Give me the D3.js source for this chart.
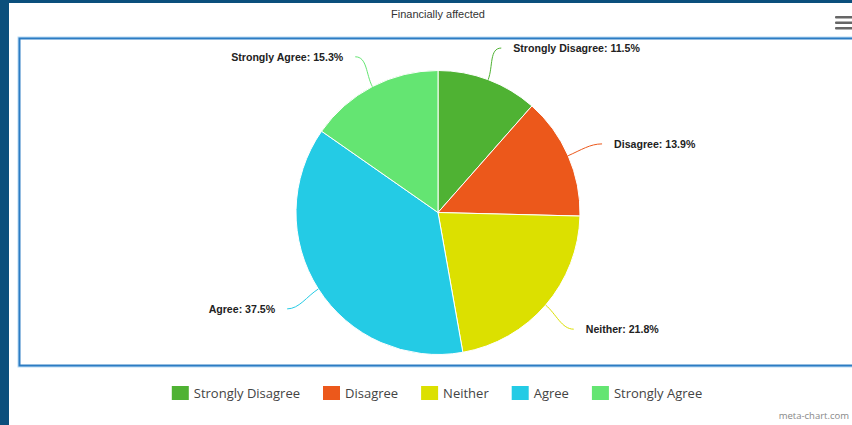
<!DOCTYPE html>
<html>
<head>
<meta charset="utf-8">
<script src="https://cdn.jsdelivr.net/npm/d3@7/dist/d3.min.js"></script>
<style>
  html, body { margin: 0; padding: 0; background: #ffffff; }
  svg { display: block; }
</style>
</head>
<body>
<svg id="chart" width="852" height="425"></svg>
<script>
// Survey responses: "Financially affected"
const categories = ["Strongly Disagree", "Disagree", "Neither", "Agree", "Strongly Agree"];
const percentages = [11.5, 13.9, 21.8, 37.5, 15.3];
const sliceColors = ["#4fb233", "#ec581b", "#dce000", "#24cbe5", "#64e572"];
const chartTitle = "Financially affected";
const creditText = "meta-chart.com";

const W = 852, H = 425;
const svg = d3.select("#chart");

// page background and dark frame edges
svg.append("rect").attr("width", W).attr("height", H).attr("fill", "#ffffff");
svg.append("rect").attr("x", 0).attr("y", 0).attr("width", 9).attr("height", H).attr("fill", "#0b4f7c");
svg.append("rect").attr("x", 0).attr("y", 0).attr("width", W).attr("height", 3).attr("fill", "#0b4f7c");

// title
svg.append("text")
  .attr("x", 438).attr("y", 18)
  .attr("text-anchor", "middle")
  .attr("font-family", "'Liberation Sans', Arial, sans-serif")
  .attr("font-size", 11)
  .attr("fill", "#333")
  .text(chartTitle);

// menu icon
const menu = svg.append("g").attr("fill", "#666");
[16, 21.5, 27].forEach(y => {
  menu.append("rect").attr("x", 835).attr("y", y).attr("width", 20).attr("height", 2.6).attr("rx", 1);
});

// plot frame (blue border with a soft glow)
svg.append("rect")
  .attr("x", 19.5).attr("y", 38.5).attr("width", 900).attr("height", 327)
  .attr("fill", "none").attr("stroke", "#b9dbf5").attr("stroke-width", 4);
svg.append("rect")
  .attr("x", 19.5).attr("y", 38.5).attr("width", 900).attr("height", 327)
  .attr("fill", "#ffffff").attr("stroke", "#2c7cc3").attr("stroke-width", 2);

// pie
const cx = 438, cy = 212.5, R = 142;
const data = categories.map((c, i) => ({ name: c, value: percentages[i], color: sliceColors[i] }));
const pie = d3.pie().sort(null).value(d => d.value);
const arcs = pie(data);
const arc = d3.arc().innerRadius(0).outerRadius(R);

const g = svg.append("g").attr("transform", `translate(${cx},${cy})`);
g.selectAll("path.slice")
  .data(arcs)
  .join("path")
  .attr("class", "slice")
  .attr("d", arc)
  .attr("fill", d => d.data.color)
  .attr("stroke", "#ffffff")
  .attr("stroke-width", 1);

// data labels with soft connectors
const pt = (a, r) => [Math.sin(a) * r, -Math.cos(a) * r];
arcs.forEach(d => {
  const mid = (d.startAngle + d.endAngle) / 2;
  const edge = pt(mid, R);
  const end = pt(mid, R + 37);
  if (end[1] < 0) end[1] += 3;
  const right = end[0] > 0;
  const dir = right ? 1 : -1;
  const c1 = [end[0] - dir * 12, end[1]];
  const c2 = pt(mid, R + 14);
  g.append("path")
    .attr("d", `M${end[0]},${end[1]} C${c1[0]},${c1[1]} ${c2[0]},${c2[1]} ${edge[0]},${edge[1]}`)
    .attr("fill", "none")
    .attr("stroke", d.data.color)
    .attr("stroke-width", 1);
  g.append("text")
    .attr("x", end[0] + dir * 12)
    .attr("y", end[1])
    .attr("dy", "0.35em")
    .attr("text-anchor", right ? "start" : "end")
    .attr("font-family", "'Liberation Sans', Arial, sans-serif")
    .attr("font-size", 10.6)
    .attr("font-weight", "bold")
    .attr("fill", "#222")
    .text(`${d.data.name}: ${d3.format(".1f")(d.data.value)}%`);
});

// legend
const legend = svg.append("g");
let lx = 0;
data.forEach(d => {
  const item = legend.append("g").attr("transform", `translate(${lx},0)`);
  item.append("rect").attr("x", 0).attr("y", -7).attr("width", 17).attr("height", 14).attr("fill", d.color);
  const t = item.append("text")
    .attr("x", 22).attr("y", 0).attr("dy", "0.35em")
    .attr("font-family", "'Open Sans', sans-serif")
    .attr("font-size", 13)
    .attr("fill", "#444")
    .text(d.name);
  const w = t.node().getComputedTextLength();
  lx += 22 + w + 23;
});
const legendWidth = lx - 23;
legend.attr("transform", `translate(${437 - legendWidth / 2},393)`);

// credit
svg.append("text")
  .attr("x", 849).attr("y", 419)
  .attr("text-anchor", "end")
  .attr("font-family", "'Open Sans', sans-serif")
  .attr("font-size", 9.5)
  .attr("fill", "#888")
  .text(creditText);
</script>
</body>
</html>
